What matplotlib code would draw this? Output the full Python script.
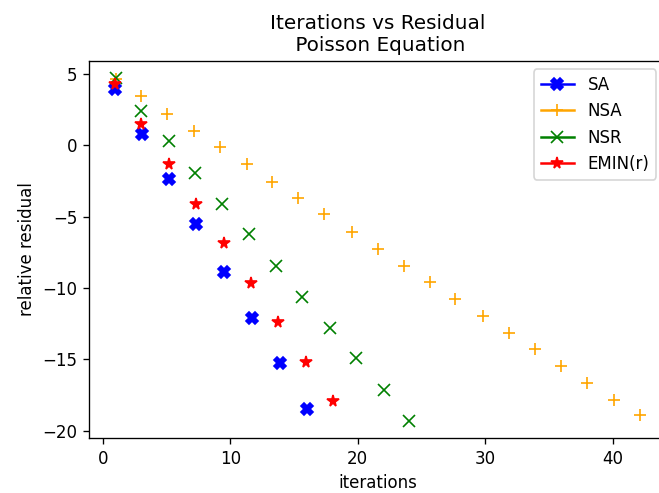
import matplotlib
matplotlib.use("Agg")
import matplotlib.pyplot as plt
from matplotlib.lines import Line2D

# values
sa_x = [1.0, 3.05, 5.2, 7.35, 9.55, 11.72, 13.88, 16.05]
sa_y = [3.96, 0.82, -2.37, -5.51, -8.84, -12.09, -15.23, -18.49]

nsa_x = [1.02, 3.03, 5.07, 7.13, 9.17, 11.31, 13.3, 15.35, 17.39, 19.52,
         21.59, 23.6, 25.66, 27.64, 29.83, 31.87, 33.9, 35.97, 37.96, 40.12, 42.13]
nsa_y = [4.65, 3.44, 2.21, 1.0, -0.12, -1.33, -2.53, -3.68, -4.81, -6.05,
         -7.24, -8.42, -9.54, -10.75, -11.93, -13.14, -14.24, -15.47, -16.63, -17.86, -18.91]

nsr_x = [1.02, 3.03, 5.19, 7.2, 9.37, 11.46, 13.6, 15.66, 17.8, 19.84, 22.03, 24.04]
nsr_y = [4.72, 2.44, 0.3, -1.9, -4.07, -6.21, -8.42, -10.6, -12.79, -14.93, -17.15, -19.31]

emin_x = [0.98, 3.03, 5.19, 7.33, 9.5, 11.6, 13.77, 15.94, 18.1]
emin_y = [4.31, 1.51, -1.28, -4.07, -6.82, -9.61, -12.37, -15.16, -17.93]

series = [
    ("SA", sa_x, sa_y, "blue", "X", 7),
    ("NSA", nsa_x, nsa_y, "orange", "+", 7),
    ("NSR", nsr_x, nsr_y, "green", "x", 7),
    ("EMIN(r)", emin_x, emin_y, "red", "*", 7),
]

dpi = 120
fig = plt.figure(figsize=(659 / dpi, 493 / dpi), dpi=dpi)
# right spine falls just outside the saved image, as in the reference
ax = fig.add_axes([89 / 659, 1 - 438 / 493, (666 - 89) / 659, (438 - 61) / 493])

handles = []
for name, x, y, c, m, ms in series:
    ax.plot(x, y, linestyle="none", marker=m, color=c, markersize=ms)
    handles.append(Line2D([], [], color=c, marker=m, markersize=ms, label=name))

ax.set_title("Iterations vs Residual\n Poisson Equation")
ax.set_xlabel("iterations")
ax.set_ylabel("relative residual")
ax.set_xticks([0, 10, 20, 30, 40])
ax.set_yticks([5, 0, -5, -10, -15, -20])
ax.legend(handles=handles, loc="upper right", bbox_to_anchor=(0.997, 1.0))

fig.savefig("out.png", dpi=dpi)
